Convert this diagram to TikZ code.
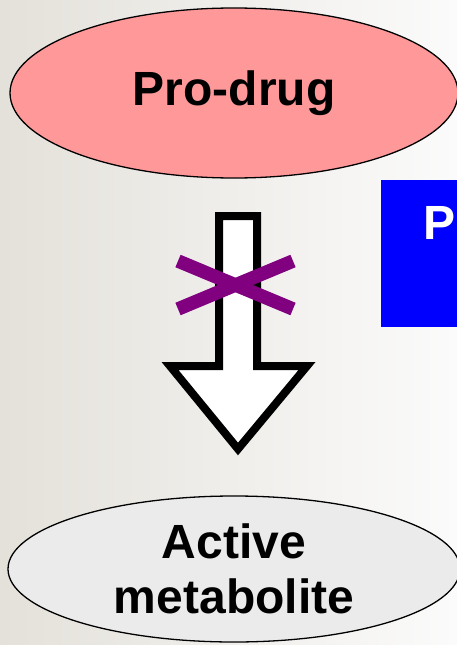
\documentclass[tikz,border=0pt]{standalone}
\usepackage{fontspec}
\setmainfont{Liberation Sans}
\usetikzlibrary{shapes.geometric}
\definecolor{pinkfill}{HTML}{FF9999}
\definecolor{greyfill}{HTML}{EBEBEB}
\definecolor{crosspurple}{HTML}{800080}
\definecolor{bgleft}{HTML}{E4E1DA}
\definecolor{bgright}{HTML}{FBFBFB}
\tikzset{
  stage/.style={ellipse, draw=black, line width=1.3pt, inner sep=0pt,
    font=\fontsize{48}{57}\selectfont\bfseries, align=center},
  blockarrow/.style={draw=black, line width=8pt, fill=white, miter limit=10},
  crossbar/.style={draw=crosspurple, line width=13.5pt},
  bluebox/.style={fill=blue, draw=none}
}
\begin{document}
\begin{tikzpicture}[x=1pt,y=-1pt]
  \useasboundingbox (0,0) rectangle (457,645);
  \clip (0,0) rectangle (457,645);
  % background
  \shade[left color=bgleft, right color=bgright] (0,0) rectangle (457,645);
  % partly visible label box on the right
  \path[bluebox] (381,180) rectangle (470,327);
  \node[anchor=west, text=white, font=\fontsize{48}{57}\selectfont\bfseries, inner sep=0pt] (boxlabel) at (423,223) {P};
  % the two stages
  \node[stage, fill=pinkfill, minimum width=448pt, minimum height=170pt] (prodrug) at (234,93) {Pro-drug};
  \node[stage, fill=greyfill, minimum width=452pt, minimum height=146pt] (active) at (234,569) {Active\\[-2pt]metabolite};
  % blocked conversion arrow
  \coordinate (tip) at (238,449);
  \draw[blockarrow] (219,216) -- (257,216) -- (257,366) -- (307,366) -- (tip)
     -- (170,366) -- (219,366) -- cycle;
  % cross over the arrow
  \coordinate (c1) at (178,261);
  \coordinate (c2) at (293,309);
  \coordinate (c3) at (178,309);
  \coordinate (c4) at (293,261);
  \draw[crossbar] (c1) -- (c2);
  \draw[crossbar] (c3) -- (c4);
\end{tikzpicture}
\end{document}
